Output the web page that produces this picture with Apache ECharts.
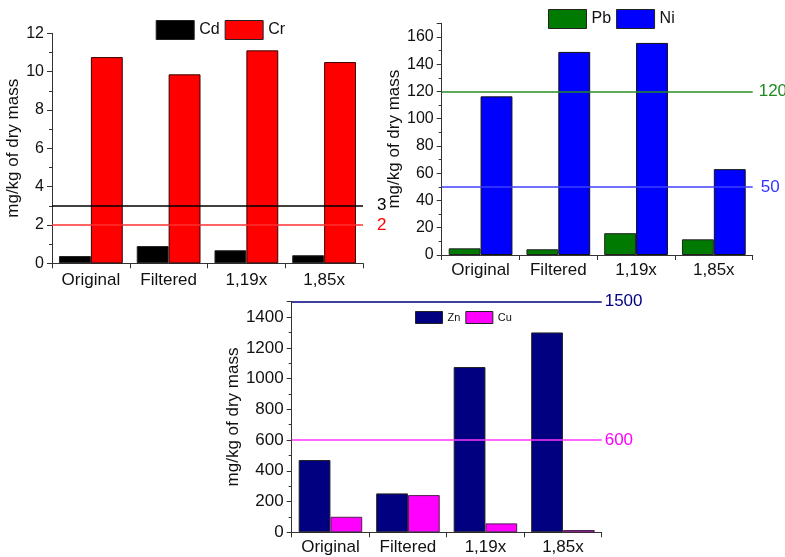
<!DOCTYPE html>
<html><head><meta charset="utf-8">
<script src="https://cdn.jsdelivr.net/npm/echarts@6/dist/echarts.min.js"></script>
<style>html,body{margin:0;padding:0;background:#fff}#c{width:785px;height:557px}</style>
</head><body><div id="c"></div>
<script>
// ---- data ----
const categories = ['Original', 'Filtered', '1,19x', '1,85x'];
const cd = [0.38, 0.90, 0.68, 0.42];
const cr = [10.76, 9.86, 11.11, 10.50];
const pb = [4.9, 4.2, 16.0, 11.5];
const ni = [116.4, 149.0, 155.6, 63.0];
const zn = [470, 253, 1075, 1300];
const cu = [101, 242, 58, 15];
const cdLimit = 3, crLimit = 2;
const pbLimit = 120, niLimit = 50;
const znLimit = 1500, cuLimit = 600;
const yMax = [12, 170, 1500];
const yStep = [2, 20, 200];

const FONT = 'Liberation Sans, Arial, sans-serif';
const AX = '#333';

function xAxis(gi, margin, fs) {
  return {
    type: 'category', gridIndex: gi, data: categories, boundaryGap: true,
    axisLine: {show: true, lineStyle: {color: AX, width: 1}},
    axisTick: {show: true, length: 5, lineStyle: {color: AX}},
    axisLabel: {color: '#111', fontSize: fs, fontFamily: FONT, margin: margin},
    splitLine: {show: false}
  };
}
function yAxis(gi, i, nameGap, fs) {
  return {
    type: 'value', gridIndex: gi, min: 0, max: yMax[i], interval: yStep[i],
    name: 'mg/kg of dry mass', nameLocation: 'middle', nameGap: nameGap, nameRotate: 90,
    nameTextStyle: {fontSize: 17, fontFamily: FONT, color: '#111'},
    axisLine: {show: true, lineStyle: {color: AX, width: 1}},
    axisTick: {show: true, length: 5, inside: false, lineStyle: {color: AX}},
    minorTick: {show: true, splitNumber: 2, length: 3, lineStyle: {color: AX}},
    axisLabel: {color: '#111', fontSize: fs, fontFamily: FONT, margin: 8, showMaxLabel: i === 0,
      formatter: v => String(v)},
    splitLine: {show: false}, minorSplitLine: {show: false}
  };
}
function bar(name, data, color, border, gi, extra) {
  return Object.assign({
    type: 'bar', name: name, data: data, xAxisIndex: gi, yAxisIndex: gi,
    barGap: '0%', barCategoryGap: '18%',
    itemStyle: {color: color, borderColor: border, borderWidth: 1, borderRadius: 0},
    emphasis: {disabled: true}, animation: false
  }, extra || {});
}
function mline(value, color, labelColor, dist, fs) {
  const ls = {color: color, width: 1.5, type: 'solid', opacity: 1};
  return {
    silent: true, symbol: 'none', animation: false,
    lineStyle: ls,
    label: {show: true, position: 'end', distance: dist, color: labelColor, fontSize: fs, fontFamily: FONT, formatter: String(value)},
    data: [{yAxis: value, lineStyle: ls}]
  };
}
function legend(names, left, top, w, h, fs) {
  return {
    data: names.map(n => ({name: n, icon: 'rect'})), icon: 'rect',
    left: left, top: top, itemWidth: w, itemHeight: h, itemGap: 5, itemTextGap: 4,
    itemStyle: {borderRadius: 0, borderWidth: 1, borderColor: '#222'},
    textStyle: {fontSize: fs, fontFamily: FONT, color: '#111'}, selectedMode: false, padding: 0
  };
}

const option = {
  backgroundColor: '#fff',
  animation: false,
  textStyle: {fontFamily: FONT},
  grid: [
    {left: 52, top: 33.3, width: 311, height: 230, outerBoundsMode: 'none', containLabel: false},
    {left: 441.7, top: 23.3, width: 311, height: 231.7, outerBoundsMode: 'none', containLabel: false},
    {left: 291.7, top: 301.7, width: 310, height: 230.6, outerBoundsMode: 'none', containLabel: false}
  ],
  legend: [
    legend(['Cd', 'Cr'], 155.7, 20, 38, 19, 16),
    legend(['Pb', 'Ni'], 548, 9, 38, 19, 16),
    legend(['Zn', 'Cu'], 415, 311, 27, 12, 11)
  ],
  xAxis: [xAxis(0, 9, 17), xAxis(1, 7, 17), xAxis(2, 7, 17)],
  yAxis: [yAxis(0, 0, 21, 16), yAxis(1, 1, 30, 16), yAxis(2, 2, 39, 17)],
  series: [
    bar('Cd', cd, '#000000', '#222', 0, {markLine: mline(cdLimit, '#000000', '#000000', 14, 17)}),
    bar('Cr', cr, '#ff0000', '#3a0000', 0, {markLine: mline(crLimit, '#ff3030', '#ff0000', 14, 17)}),
    bar('Pb', pb, '#007a00', '#222', 1, {markLine: mline(pbLimit, '#268c26', '#1f8a1f', 6, 17)}),
    bar('Ni', ni, '#0000ff', '#111', 1, {markLine: mline(niLimit, '#4040ff', '#3333ff', 8, 17)}),
    bar('Zn', zn, '#000080', '#222', 2, {markLine: mline(znLimit, '#000080', '#000080', 3, 17)}),
    bar('Cu', cu, '#ff00ff', '#502050', 2, {markLine: mline(cuLimit, '#ff33ff', '#ff00ff', 3, 17)})
  ]
};
const chart = echarts.init(document.getElementById('c'), null, {renderer: 'canvas'});
chart.setOption(option);
</script>
</body></html>
